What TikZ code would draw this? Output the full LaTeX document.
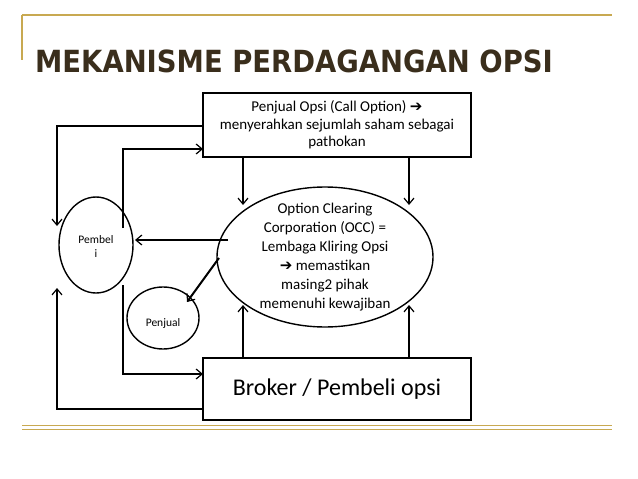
\documentclass[tikz,border=0pt]{standalone}
\usepackage{fontspec}
\setmainfont{Carlito}
\newfontfamily\titlefont{DejaVu Sans}
\newcommand{\rarr}{{\titlefont\bfseries ➔}}
\usetikzlibrary{arrows.meta}
\definecolor{gold}{HTML}{C8A951}
\definecolor{titlec}{HTML}{3A2E1C}
\tikzset{
  conn/.style={line width=2pt,-{Straight Barb[length=6pt,width=10pt,line width=1.2pt]}},
  boxn/.style={draw,line width=1.6pt,minimum width=268pt,align=center}
}
\begin{document}
\begin{tikzpicture}[x=1pt,y=-1pt]
\useasboundingbox (0,0) rectangle (638,479);
\fill[white] (0,0) rectangle (638,479);
\coordinate (gl) at (22,15); \coordinate (gr) at (612,15);
\draw[gold,line width=1.2pt] (gl) -- (gr);
\draw[gold,line width=1.2pt] (gl) -- ++(0,45);
\coordinate (bl) at (22,425); \coordinate (br) at (612,425);
\draw[gold,line width=1pt] (bl) -- (br);
\draw[gold,line width=0.6pt] (22,429) -- (612,429);
\node[anchor=west,text=titlec,font=\titlefont\bfseries\fontsize{30.5}{34}\selectfont,inner sep=0pt,xscale=0.9] (title) at (35,61) {MEKANISME PERDAGANGAN OPSI};
\node[boxn,minimum height=64pt,font=\fontsize{15}{17.5}\selectfont] (top) at (337,125) {Penjual Opsi (Call Option) \rarr\\menyerahkan sejumlah saham sebagai\\pathokan};
\node[boxn,minimum height=62pt,font=\fontsize{24}{28}\selectfont] (bot) at (337,389) {\raisebox{-6pt}{Broker / Pembeli opsi}};
\draw[line width=1.4pt] (325,257) ellipse (108 and 70);
\node[align=center,font=\fontsize{15}{19}\selectfont] (occ) at (325,257) {Option Clearing\\Corporation (OCC) =\\Lembaga Kliring Opsi\\\rarr{} memastikan\\masing2 pihak\\memenuhi kewajiban};
\draw[line width=1.4pt] (96,245) ellipse (37 and 48);
\node[align=center,font=\fontsize{11.5}{14}\selectfont] (pb) at (96,247) {Pembel\\i};
\draw[line width=1.4pt] (163,318) ellipse (36 and 31);
\node[font=\fontsize{11.5}{13}\selectfont] (pj) at (163,323) {Penjual};
\draw[conn] (top.south -| 243,0) -- (243,205);
\draw[conn] (top.south -| 409,0) -- (409,205);
\draw[conn] (bot.north -| 243,0) -- (243,305);
\draw[conn] (bot.north -| 409,0) -- (409,305);
\draw[conn] (228,240) -- (135,240);
\draw[conn] (219,258) -- (187,302);
\draw[conn] (123,228) -- (123,149) -- (203,149);
\draw[conn] (123,285) -- (123,374) -- (203,374);
\draw[conn] (top.west |- 0,126) -- (57,126) -- (57,226);
\draw[conn] (bot.west |- 0,409) -- (57,409) -- (57,288);
\end{tikzpicture}
\end{document}
